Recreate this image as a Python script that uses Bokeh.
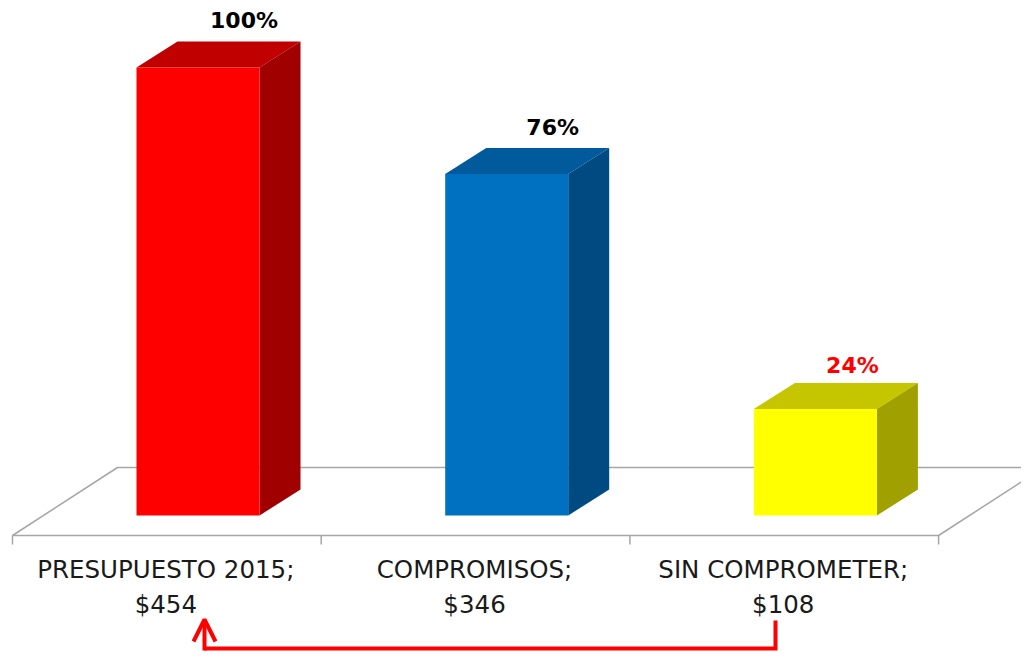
from bokeh.plotting import figure
from bokeh.models import Range1d, ColumnDataSource, Arrow, OpenHead
from bokeh.core.properties import value
from bokeh.embed import file_html
from bokeh.resources import INLINE

# ---- data ----
categories = ["PRESUPUESTO 2015;", "COMPROMISOS;", "SIN COMPROMETER;"]
values = [454, 346, 108]
pct_labels = ["100%", "76%", "24%"]

# ---- styles ----
front_colors = ["#FF0000", "#0070C0", "#FFFF00"]
top_colors = ["#C00000", "#005A9C", "#C6C600"]
side_colors = ["#A00000", "#004A82", "#A0A000"]
pct_colors = ["#000000", "#000000", "#FF0000"]
pct_dx_px = [46, 46, 37]      # label offset from bar front centre (px)
pct_dy_px = [47, 46, 43]      # label offset above bar top (px)

W, H = 1021, 653
ORG = 0               # image offset of the figure
PX_X = 308.7          # pixels per category
PX_Y = 0.987          # pixels per value unit
X0_IMG, BASE_IMG = 12, 515

def u(px):            # vertical pixels -> value units
    return px / PX_Y

x_start = (ORG - X0_IMG) / PX_X
x_end = (ORG + W - X0_IMG) / PX_X
y_top = u(BASE_IMG - ORG)
y_bot = u(BASE_IMG - (ORG + H))

p = figure(width=W, height=H, output_backend="svg", toolbar_location=None,
           x_range=Range1d(x_start, x_end), y_range=Range1d(y_bot, y_top),
           min_border=0, background_fill_color="white", border_fill_color="white")
p.axis.visible = False
p.grid.visible = False
p.outline_line_color = None

# floor
DX_F, DY_F = 105 / PX_X, u(68)
fy = -u(20)
p.line([0, DX_F, 3.6], [fy, fy + DY_F, fy + DY_F], line_color="#A6A6A6", line_width=1.5)
p.line([0, 3.0, 3.0 + DX_F * 1.3], [fy, fy, fy + DY_F * 1.3], line_color="#A6A6A6", line_width=1.5)
p.segment(x0=[0, 1, 2, 3], y0=[fy] * 4, x1=[0, 1, 2, 3], y1=[fy - u(9)] * 4,
          line_color="#A6A6A6", line_width=1.5)

# bars
L_OFF, R_OFF = (136 - X0_IMG) / PX_X, (259 - X0_IMG) / PX_X
DX, DY = 41 / PX_X, u(26)
fronts = dict(left=[], right=[], top=[], bottom=[], color=[])
tops_x, tops_y, sides_x, sides_y = [], [], [], []
for i, v in enumerate(values):
    l, r = i + L_OFF, i + R_OFF
    fronts["left"].append(l); fronts["right"].append(r)
    fronts["top"].append(v); fronts["bottom"].append(0)
    fronts["color"].append(front_colors[i])
    tops_x.append([l, r, r + DX, l + DX]); tops_y.append([v, v, v + DY, v + DY])
    sides_x.append([r, r + DX, r + DX, r]); sides_y.append([0, DY, v + DY, v])

p.patches(tops_x, tops_y, fill_color=top_colors, line_color=None)
p.patches(sides_x, sides_y, fill_color=side_colors, line_color=None)
p.quad(source=ColumnDataSource(fronts), left="left", right="right", top="top",
       bottom="bottom", fill_color="color", line_color=None)

# percent labels
lab = ColumnDataSource(dict(
    x=[i + (L_OFF + R_OFF) / 2 + pct_dx_px[i] / PX_X for i in range(3)],
    y=[v + u(pct_dy_px[i]) for i, v in enumerate(values)], t=pct_labels, c=pct_colors))
p.text(source=lab, x="x", y="y", text="t", text_color="c",
       text_font=value("DejaVu Sans"), text_font_style="bold", text_font_size="22px",
       text_align="center", text_baseline="middle")

# category labels
cx = [i + 0.5 - 1 / PX_X for i in range(3)]
p.text(x=cx, y=[-u(569 - BASE_IMG)] * 3, text=categories,
       text_font=value("DejaVu Sans"), text_font_size="24.5px", text_color="#1A1A1A",
       text_align="center", text_baseline="middle")
p.text(x=cx, y=[-u(604 - BASE_IMG)] * 3, text=["$%d" % v for v in values],
       text_font=value("DejaVu Sans"), text_font_size="24.5px", text_color="#1A1A1A",
       text_align="center", text_baseline="middle")

# connector arrow
ax_r, ax_l = (775 - X0_IMG) / PX_X, (204 - X0_IMG) / PX_X
yb = -u(648 - BASE_IMG)
p.line([ax_r, ax_r, ax_l], [-u(620 - BASE_IMG), yb, yb], line_color="#FF0000",
       line_width=4, line_join="miter")
p.add_layout(Arrow(end=OpenHead(size=22, line_color="#FF0000", line_width=4),
                   x_start=ax_l, y_start=yb - u(2), x_end=ax_l, y_end=-u(619 - BASE_IMG),
                   line_color="#FF0000", line_width=4))

open("out.html", "w").write(file_html(p, INLINE))
